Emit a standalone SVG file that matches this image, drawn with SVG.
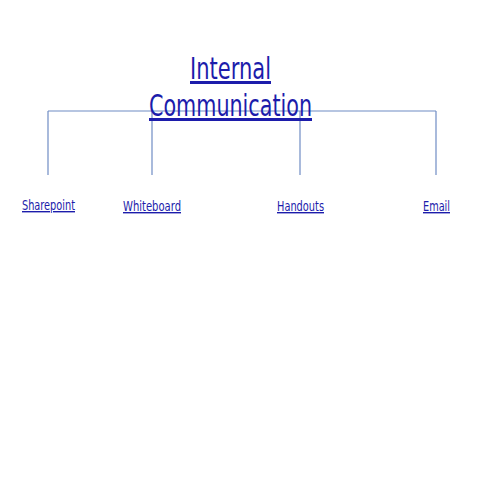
<svg xmlns="http://www.w3.org/2000/svg" width="480" height="480" viewBox="0 0 480 480">
<style>
  text { font-family: "DejaVu Sans Condensed", "DejaVu Sans", sans-serif; font-stretch: condensed; fill: #1c1cab; text-decoration: underline; text-anchor: middle; }
  .title { font-size: 30px; }
  .leaf { font-size: 14px; }
  .conn { stroke: #6f8cc4; stroke-width: 1.2; fill: none; }
</style>
<rect width="480" height="480" fill="#ffffff"/>
<g id="connectors">
  <path class="conn" d="M48,111 H436"/>
  <path class="conn" d="M48,111 V175"/>
  <path class="conn" d="M152,111 V175"/>
  <path class="conn" d="M300,111 V175"/>
  <path class="conn" d="M436,111 V175"/>
</g>
<g id="root">
  <text class="title" x="230.5" y="79" textLength="81" lengthAdjust="spacingAndGlyphs">Internal</text>
  <text class="title" x="230.5" y="116" textLength="163" lengthAdjust="spacingAndGlyphs">Communication</text>
</g>
<g id="sharepoint"><text class="leaf" x="48.5" y="210" textLength="53" lengthAdjust="spacingAndGlyphs">Sharepoint</text></g>
<g id="whiteboard"><text class="leaf" x="152" y="211" textLength="58" lengthAdjust="spacingAndGlyphs">Whiteboard</text></g>
<g id="handouts"><text class="leaf" x="300.5" y="211" textLength="47" lengthAdjust="spacingAndGlyphs">Handouts</text></g>
<g id="email"><text class="leaf" x="436.5" y="211" textLength="27" lengthAdjust="spacingAndGlyphs">Email</text></g>
</svg>
